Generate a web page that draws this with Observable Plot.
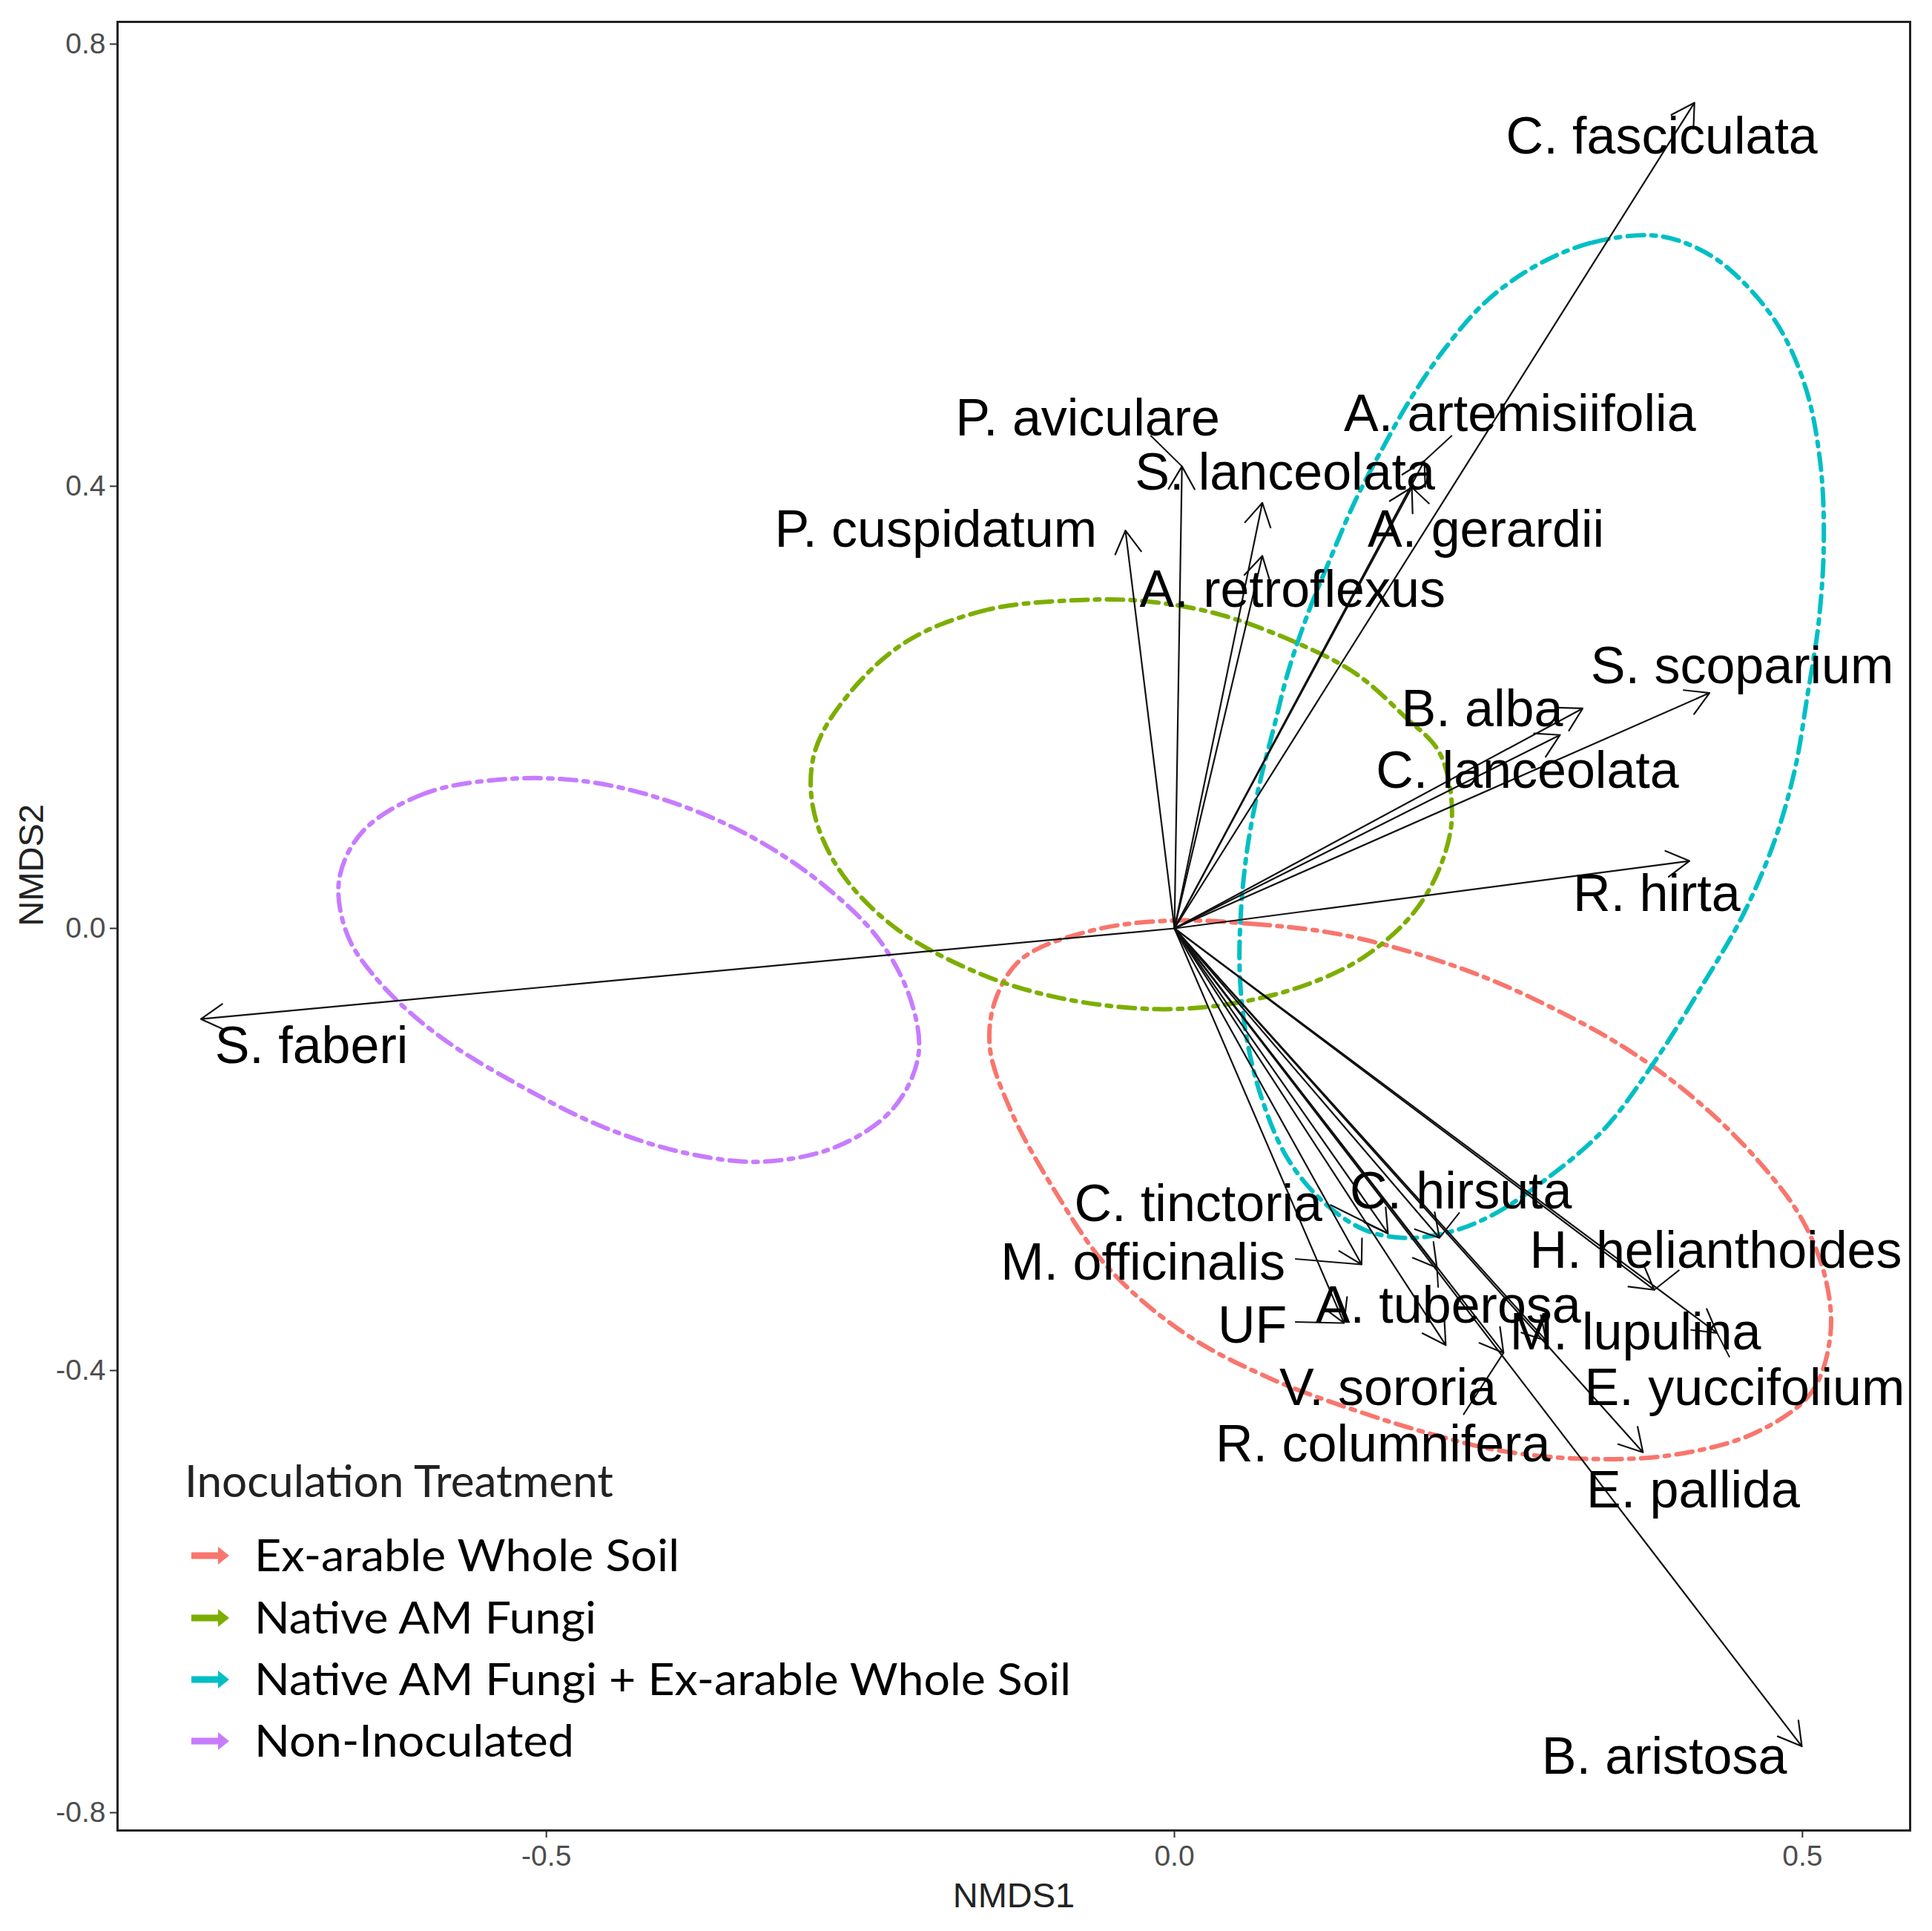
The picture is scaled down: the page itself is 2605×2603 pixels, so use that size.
<!DOCTYPE html>
<html><head><meta charset="utf-8">
<script src="https://cdn.jsdelivr.net/npm/d3@7"></script>
<script src="https://cdn.jsdelivr.net/npm/@observablehq/plot@0.6"></script>
<style>body{margin:0;background:#fff} svg{display:block}</style>
</head><body><div id="chart"></div>
<script>
// ---- species vectors (arrow tips) and label positions ----
const species = ["C. fasciculata","P. aviculare","A. artemisiifolia","S. lanceolata","A. gerardii","P. cuspidatum","A. retroflexus","S. scoparium","B. alba","C. lanceolata","R. hirta","S. faberi","C. tinctoria","C. hirsuta","H. helianthoides","M. officinalis","A. tuberosa","UF","M. lupulina","V. sororia","E. yuccifolium","R. columnifera","E. pallida","B. aristosa"];
const tipX = [0.414,0.006,0.199,0.070,0.189,-0.039,0.070,0.426,0.325,0.307,0.410,-0.775,0.170,0.211,0.382,0.149,0.209,0.135,0.296,0.216,0.432,0.262,0.373,0.4995];
const tipY = [0.747,0.418,0.423,0.385,0.399,0.360,0.337,0.213,0.199,0.175,0.061,-0.082,-0.276,-0.280,-0.327,-0.304,-0.307,-0.357,-0.373,-0.377,-0.366,-0.384,-0.474,-0.740];
const labX = [0.388,-0.069,0.275,0.088,0.248,-0.190,0.094,0.452,0.245,0.281,0.384,-0.687,0.019,0.228,0.431,-0.025,0.218,0.062,0.367,0.170,0.454,0.166,0.413,0.390];
const labY = [0.716,0.461,0.465,0.412,0.360,0.360,0.306,0.237,0.198,0.142,0.031,-0.107,-0.250,-0.238,-0.292,-0.303,-0.342,-0.360,-0.366,-0.416,-0.416,-0.467,-0.509,-0.750];

// ---- leader segments (label side end points) ----
const leaderNames = ["P. aviculare","A. artemisiifolia","A. gerardii","C. tinctoria","C. hirsuta","M. officinalis","UF","A. tuberosa","R. columnifera","H. helianthoides","E. yuccifolium"];
const leaderX = [-0.019,0.221,0.203,0.124,0.227,0.096,0.096,0.210,0.230,0.402,0.442];
const leaderY = [0.446,0.446,0.384,-0.250,-0.257,-0.299,-0.356,-0.325,-0.440,-0.309,-0.388];

// ---- treatment ellipses (outline points) ----
const groups = ["Ex-arable Whole Soil","Native AM Fungi","Native AM Fungi + Ex-arable Whole Soil","Non-Inoculated"];
const groupColors = ["#F8766D","#7CAE00","#00BFC4","#C77CFF"];
const redX = [-0.004,0.063,0.125,0.184,0.242,0.301,0.360,0.414,0.463,0.500,0.519,0.522,0.507,0.463,0.399,0.331,0.262,0.203,0.144,0.076,0.009,-0.052,-0.096,-0.131,-0.147,-0.142,-0.121,-0.066];
const redY = [0.007,0.004,-0.004,-0.020,-0.042,-0.072,-0.109,-0.154,-0.208,-0.264,-0.320,-0.370,-0.420,-0.456,-0.476,-0.480,-0.473,-0.457,-0.436,-0.407,-0.367,-0.308,-0.236,-0.163,-0.107,-0.063,-0.027,-0.002];
const greenX = [-0.0765,-0.150,-0.214,-0.260,-0.286,-0.288,-0.268,-0.224,-0.157,-0.091,-0.015,0.046,0.105,0.152,0.191,0.213,0.221,0.211,0.183,0.145,0.100,0.036,-0.023];
const greenY = [0.297,0.288,0.259,0.211,0.161,0.111,0.055,0.002,-0.040,-0.063,-0.073,-0.068,-0.051,-0.025,0.015,0.060,0.105,0.159,0.192,0.230,0.257,0.284,0.296];
const cyanX = [0.380,0.331,0.287,0.247,0.215,0.188,0.166,0.144,0.125,0.107,0.091,0.079,0.067,0.058,0.053,0.052,0.057,0.069,0.090,0.120,0.152,0.184,0.218,0.252,0.291,0.341,0.382,0.419,0.453,0.478,0.494,0.504,0.513,0.517,0.514,0.502,0.478,0.439,0.409];
const cyanY = [0.627,0.620,0.599,0.566,0.524,0.479,0.435,0.387,0.337,0.287,0.234,0.181,0.127,0.072,0.016,-0.040,-0.096,-0.152,-0.208,-0.249,-0.273,-0.280,-0.275,-0.260,-0.231,-0.183,-0.121,-0.054,0.013,0.080,0.144,0.211,0.278,0.351,0.423,0.491,0.550,0.599,0.619];
const purpleX = [-0.533,-0.597,-0.646,-0.665,-0.658,-0.631,-0.587,-0.523,-0.454,-0.386,-0.327,-0.268,-0.224,-0.204,-0.209,-0.234,-0.278,-0.337,-0.405,-0.469];
const purpleY = [0.135,0.122,0.088,0.044,-0.007,-0.051,-0.096,-0.141,-0.180,-0.204,-0.211,-0.197,-0.163,-0.116,-0.068,-0.012,0.038,0.083,0.116,0.133];

// ---- axes ----
const xTicks = [-0.5, 0, 0.5];
const yTicks = [-0.8, -0.4, 0, 0.4, 0.8];
const xTitle = "NMDS1", yTitle = "NMDS2", legendTitle = "Inoculation Treatment";

// build tables
const ellipsePts = [];
[[redX,redY],[greenX,greenY],[cyanX,cyanY],[purpleX,purpleY]].forEach(([xs,ys],i) =>
  xs.forEach((x,j) => ellipsePts.push({group: groups[i], x, y: ys[j]})));
const arrows = species.map((s,i) => ({name: s, x: tipX[i], y: tipY[i], lx: labX[i], ly: labY[i]}));
const leaders = leaderNames.map((n,i) => {
  const a = arrows.find(d => d.name === n);
  return {x1: a.x, y1: a.y, x2: leaderX[i], y2: leaderY[i]};
});
const fmt = d => d.toFixed(1);

const plot = Plot.plot({
  width: 2605, height: 2603,
  marginLeft: 158, marginRight: 30, marginTop: 29, marginBottom: 136,
  x: {domain: [-0.8414, 0.5857]},
  y: {domain: [-0.8161, 0.8201]},
  color: {domain: groups, range: groupColors},
  style: {fontFamily: "'Liberation Sans', Arial, sans-serif", background: "#fff"},
  marks: [
    Plot.line(ellipsePts, {x: "x", y: "y", z: "group", stroke: "group", curve: "catmull-rom-closed",
      strokeWidth: 6, strokeDasharray: "22,10,6,10"}),
    Plot.arrow(arrows, {x1: 0, y1: 0, x2: "x", y2: "y", stroke: "#111", strokeWidth: 2.2, headLength: 24, headAngle: 60}),
    Plot.link(leaders, {x1: "x1", y1: "y1", x2: "x2", y2: "y2", stroke: "#111", strokeWidth: 2}),
    Plot.text(arrows, {x: "lx", y: "ly", text: "name", fontSize: 70, fill: "#000", textAnchor: "middle", lineAnchor: "middle"}),
    Plot.axisX(xTicks, {tickSize: 10, tickPadding: 10, tickFormat: fmt, fontSize: 39, fill: "#4d4d4d", stroke: "#333", strokeWidth: 2, label: null}),
    Plot.axisY(yTicks, {tickSize: 10, tickPadding: 6, tickFormat: fmt, fontSize: 39, fill: "#4d4d4d", stroke: "#333", strokeWidth: 2, label: null}),
    Plot.frame({stroke: "#222", strokeWidth: 3}),
    Plot.text([xTitle], {frameAnchor: "bottom", dy: 88, fontSize: 47, fill: "#222", lineAnchor: "middle"}),
    Plot.text([yTitle], {frameAnchor: "left", dx: -116, rotate: -90, fontSize: 47, fill: "#222", lineAnchor: "middle"})
  ]
});
document.getElementById("chart").appendChild(plot);

// ---- legend (inside panel, bottom-left) ----
const svg = d3.select(plot);
const lg = svg.append("g").attr("font-family", "Lato, 'Open Sans', sans-serif").attr("text-anchor", "start");
lg.append("text").attr("x", 249).attr("y", 2018).attr("font-size", 60).attr("fill", "#222")
  .attr("text-anchor", "start")
  .attr("textLength", 578).attr("lengthAdjust", "spacingAndGlyphs").text(legendTitle);
const itemBase = [2118, 2202, 2285, 2368];
const itemWidth = [573, 461, 1101, 431];
groups.forEach((g, i) => {
  const c = itemBase[i] - 21;
  lg.append("line").attr("x1", 258).attr("x2", 296).attr("y1", c).attr("y2", c)
    .attr("stroke", groupColors[i]).attr("stroke-width", 9);
  lg.append("path").attr("d", `M294,${c-12}L309,${c}L294,${c+12}Z`).attr("fill", groupColors[i]);
  lg.append("text").attr("x", 343).attr("y", itemBase[i]).attr("font-size", 60).attr("fill", "#000")
    .attr("text-anchor", "start")
    .attr("textLength", itemWidth[i]).attr("lengthAdjust", "spacingAndGlyphs").text(g);
});
</script>
</body></html>
